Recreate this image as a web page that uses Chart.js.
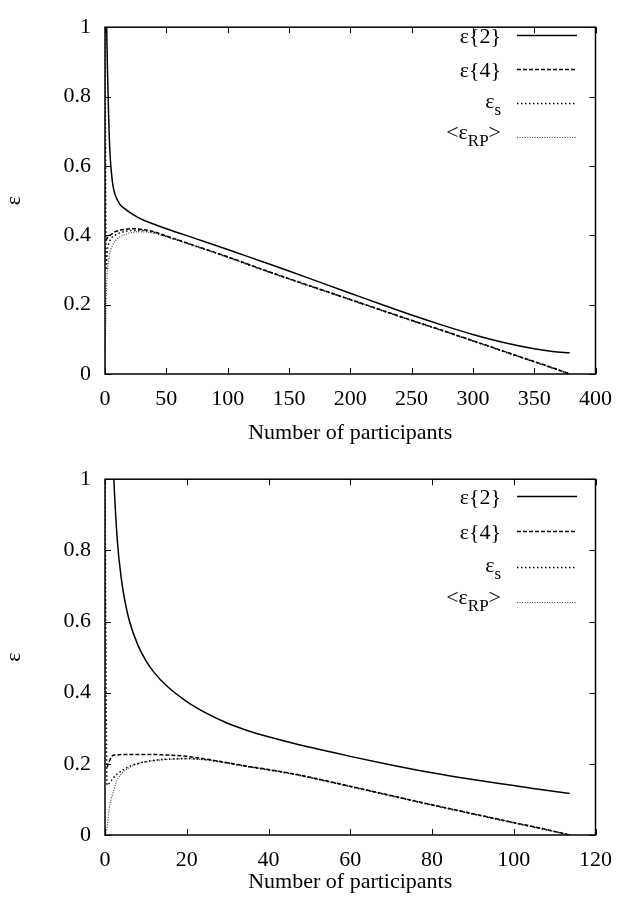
<!DOCTYPE html>
<html>
<head>
<meta charset="utf-8">
<script src="https://cdn.jsdelivr.net/npm/chart.js@4.4.0/dist/chart.umd.min.js"></script>
<style>
  body { margin: 0; background: #fff; }
  canvas { display: block; }
</style>
</head>
<body>
<div style="width:624px;height:452px"><canvas id="topChart"></canvas></div>
<div style="width:624px;height:455px"><canvas id="botChart"></canvas></div>
<script>
// top panel
const nTop  = [0, 1, 1.5, 2, 3, 4, 6, 8, 12, 16, 22, 30, 40, 50, 75, 100, 125, 150, 175, 200, 225, 250, 275, 300, 325, 350, 365, 379];
const e2Top = [null, 1.1, 0.97, 0.88, 0.74, 0.64, 0.555, 0.52, 0.49, 0.477, 0.462, 0.446, 0.432, 0.419, 0.389, 0.359, 0.328, 0.297, 0.265, 0.233, 0.201, 0.170, 0.141, 0.114, 0.091, 0.073, 0.065, 0.061];
const e4Top = [null, 0.385, 0.39, 0.393, 0.397, 0.40, 0.405, 0.41, 0.414, 0.417, 0.419, 0.417, 0.41, 0.398, 0.368, 0.338, 0.306, 0.275, 0.245, 0.215, 0.185, 0.155, 0.126, 0.096, 0.066, 0.036, 0.018, 0];
const esTop = [1.0, 0.30, 0.34, 0.36, 0.375, 0.385, 0.395, 0.40, 0.407, 0.411, 0.414, 0.414, 0.408, 0.397, 0.367, 0.337, 0.305, 0.274, 0.244, 0.214, 0.184, 0.154, 0.125, 0.095, 0.065, 0.035, 0.017, 0];
const rpTop = [0, 0.22, 0.27, 0.30, 0.33, 0.35, 0.37, 0.382, 0.395, 0.402, 0.408, 0.41, 0.406, 0.396, 0.367, 0.337, 0.305, 0.274, 0.244, 0.214, 0.184, 0.154, 0.125, 0.095, 0.065, 0.035, 0.017, 0];

// bottom panel
const nBot  = [0, 0.5, 1, 1.5, 2, 3, 4, 5, 6, 8, 10, 12, 15, 20, 25, 30, 35, 40, 47, 55, 60, 70, 80, 90, 100, 107, 113.7];
const e2Bot = [null, null, null, 1.2, 1.04, 0.83, 0.72, 0.65, 0.60, 0.535, 0.49, 0.457, 0.42, 0.375, 0.341, 0.314, 0.293, 0.276, 0.255, 0.234, 0.221, 0.197, 0.175, 0.156, 0.139, 0.127, 0.117];
const e4Bot = [null, 0.19, 0.205, 0.218, 0.224, 0.225, 0.226, 0.226, 0.226, 0.226, 0.226, 0.226, 0.225, 0.221, 0.213, 0.203, 0.193, 0.184, 0.170, 0.150, 0.137, 0.111, 0.085, 0.06, 0.035, 0.018, 0];
const esBot = [1.0, 0.14, 0.145, 0.152, 0.16, 0.172, 0.18, 0.187, 0.193, 0.201, 0.206, 0.21, 0.213, 0.215, 0.211, 0.202, 0.192, 0.183, 0.169, 0.149, 0.136, 0.110, 0.084, 0.059, 0.034, 0.017, 0];
const rpBot = [0, 0.02, 0.07, 0.10, 0.12, 0.155, 0.172, 0.182, 0.19, 0.2, 0.206, 0.209, 0.212, 0.214, 0.211, 0.202, 0.192, 0.183, 0.169, 0.149, 0.136, 0.110, 0.084, 0.059, 0.034, 0.017, 0];

// legend text: [base, subscript, tail]
const legendLabels = [['ε{2}', '', ''], ['ε{4}', '', ''], ['ε', 's', ''], ['<ε', 'RP', '>']];
const xTitle = 'Number of participants';
const yTitle = 'ε';

const FONT = '"Liberation Serif", "Times New Roman", serif';
const styles = [
  { borderColor: '#000', borderWidth: 1.5, borderDash: [] },
  { borderColor: '#000', borderWidth: 1.5, borderDash: [4, 2] },
  { borderColor: '#000', borderWidth: 1.5, borderDash: [1.5, 2.5] },
  { borderColor: '#444', borderWidth: 1.2, borderDash: [1, 1.5] }
];

const framePlugin = {
  id: 'frame',
  afterDatasetsDraw(chart, args, opts) {
    const { ctx, chartArea: a, scales: { x, y } } = chart;
    ctx.save();
    ctx.strokeStyle = '#000';
    ctx.lineWidth = 1;
    const tl = 6;
    ctx.beginPath();
    x.ticks.forEach(t => {
      const px = Math.round(x.getPixelForValue(t.value)) + 0.5;
      ctx.moveTo(px, a.bottom); ctx.lineTo(px, a.bottom - tl);
      ctx.moveTo(px, a.top); ctx.lineTo(px, a.top + tl);
    });
    y.ticks.forEach(t => {
      const py = Math.round(y.getPixelForValue(t.value)) + 0.5;
      ctx.moveTo(a.left, py); ctx.lineTo(a.left + tl, py);
      ctx.moveTo(a.right, py); ctx.lineTo(a.right - tl, py);
    });
    ctx.stroke();
    ctx.lineWidth = 1.5;
    ctx.strokeRect(a.left, a.top, a.right - a.left, a.bottom - a.top);

    // legend
    const big = '22px ' + FONT, small = '17px ' + FONT;
    ctx.fillStyle = '#000';
    ctx.textBaseline = 'alphabetic';
    ctx.textAlign = 'left';
    chart.data.datasets.forEach((ds, i) => {
      const ly = opts.legendY[i];
      const [base, sub, tail] = legendLabels[i];
      ctx.font = big; const wb = ctx.measureText(base).width; const wt = ctx.measureText(tail).width;
      ctx.font = small; const ws = ctx.measureText(sub).width;
      let tx = opts.textRight - (wb + ws + wt);
      const off = sub ? (tail ? 2 : 5) : 8;
      ctx.font = big; ctx.fillText(base, tx, ly + off); tx += wb;
      if (sub) { ctx.font = small; ctx.fillText(sub, tx, ly + off + 7); tx += ws; }
      if (tail) { ctx.font = big; ctx.fillText(tail, tx, ly + off); }
      ctx.beginPath();
      ctx.strokeStyle = ds.borderColor;
      ctx.lineWidth = ds.borderWidth;
      ctx.setLineDash(ds.borderDash);
      ctx.moveTo(opts.lineX[0], ly + 0.5);
      ctx.lineTo(opts.lineX[1], ly + 0.5);
      ctx.stroke();
      ctx.setLineDash([]);
    });
    ctx.restore();
  }
};

function makeChart(id, n, series, xMax, xStep, cfg) {
  const datasets = series.map((vals, i) => Object.assign({
    data: n.map((v, k) => ({ x: v, y: vals[k] })),
    pointRadius: 0,
    fill: false,
    cubicInterpolationMode: 'monotone'
  }, styles[i]));
  return new Chart(document.getElementById(id), {
    type: 'line',
    data: { datasets },
    plugins: [framePlugin],
    options: {
      responsive: true,
      maintainAspectRatio: false,
      animation: false,
      events: [],
      layout: { padding: { top: cfg.padTop, right: 21, left: 0, bottom: 0 } },
      plugins: {
        legend: { display: false },
        tooltip: { enabled: false },
        frame: { legendY: cfg.legendY, textRight: 501, lineX: [517, 577] }
      },
      scales: {
        x: {
          type: 'linear', min: 0, max: xMax,
          grid: { display: false, drawTicks: false },
          border: { display: false },
          ticks: { stepSize: xStep, padding: 12, color: '#000', font: { family: FONT, size: 22 } },
          title: { display: true, text: xTitle, color: '#000', font: { family: FONT, size: 22 }, padding: { top: 0, bottom: cfg.titlePad } },
          afterFit: s => { s.height = cfg.xAxisH; }
        },
        y: {
          min: 0, max: 1,
          grid: { display: false, drawTicks: false },
          border: { display: false },
          ticks: {
            stepSize: 0.2, padding: 14, color: '#000', font: { family: FONT, size: 22 },
            callback: v => String(Math.round(v * 10) / 10)
          },
          title: { display: true, text: yTitle, color: '#000', font: { family: FONT, size: 22 }, padding: { top: 1, bottom: 0 } },
          afterFit: s => { s.width = 105; }
        }
      }
    }
  });
}

makeChart('topChart', nTop, [e2Top, e4Top, esTop, rpTop], 400, 50,
  { padTop: 13, xAxisH: 78, titlePad: 6, legendY: [35, 69, 103, 137] });
makeChart('botChart', nBot, [e2Bot, e4Bot, esBot, rpBot], 120, 20,
  { padTop: 22, xAxisH: 72, titlePad: 12, legendY: [44, 79, 115, 150] });
</script>
</body>
</html>
